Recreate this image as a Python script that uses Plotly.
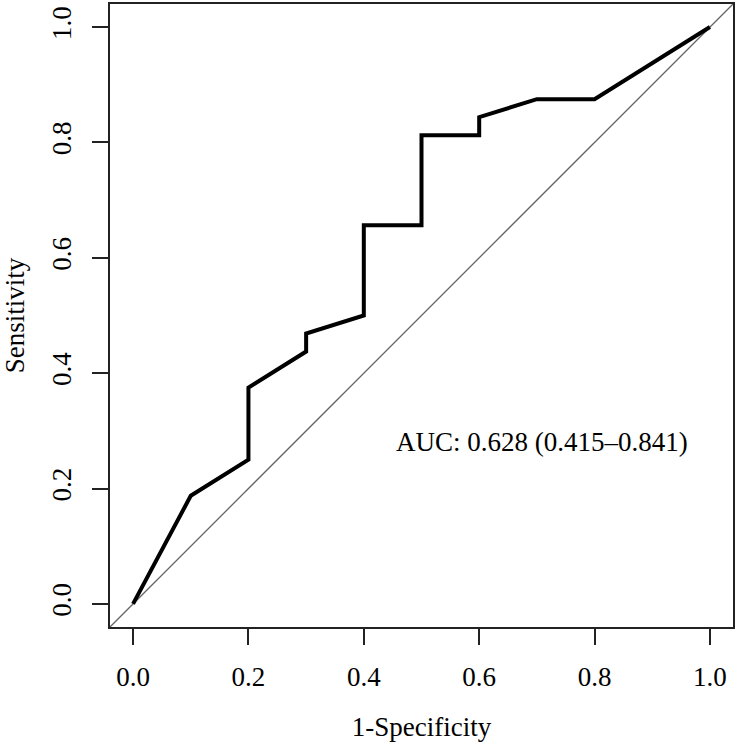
import plotly.graph_objects as go

# ROC curve data (1-Specificity, Sensitivity)
fpr = [0.0, 0.1, 0.2, 0.2, 0.3, 0.3, 0.4, 0.4, 0.5, 0.5, 0.6, 0.6, 0.7, 0.8, 1.0]
tpr = [0.0, 0.1875, 0.25, 0.375, 0.4375, 0.46875, 0.5, 0.65625, 0.65625, 0.8125,
       0.8125, 0.84375, 0.875, 0.875, 1.0]
diag = [-0.04, 1.04]
tick_vals = [0.0, 0.2, 0.4, 0.6, 0.8, 1.0]
tick_text = ["0.0", "0.2", "0.4", "0.6", "0.8", "1.0"]
auc_label = "AUC: 0.628 (0.415\u20130.841)"

FONT = "Liberation Serif, Times New Roman, serif"
FS = 27

fig = go.Figure()
fig.add_trace(go.Scatter(x=diag, y=diag, mode="lines",
                         line=dict(color="#666666", width=1.3), hoverinfo="skip",
                         showlegend=False))
fig.add_trace(go.Scatter(x=fpr, y=tpr, mode="lines",
                         line=dict(color="black", width=4), showlegend=False))

fig.add_annotation(x=0.452, y=0.28, text=auc_label, showarrow=False,
                   xanchor="left", yanchor="middle",
                   font=dict(family=FONT, size=FS, color="black"))

axis_common = dict(range=[-0.04, 1.04], tickvals=tick_vals, ticktext=tick_text,
                   ticks="outside", ticklen=16, tickwidth=2, tickcolor="#222",
                   showline=True, linewidth=2, linecolor="#222", mirror=True,
                   showgrid=False, zeroline=False,
                   tickfont=dict(family=FONT, size=FS, color="black"))

fig.update_layout(
    width=737, height=744,
    margin=dict(l=110, r=2, t=2, b=117),
    plot_bgcolor="white", paper_bgcolor="white",
    xaxis=dict(**axis_common, title=dict(text="1-Specificity", standoff=26,
                                         font=dict(family=FONT, size=FS, color="black")),
               ticklabelstandoff=9),
    yaxis=dict(**axis_common, tickangle=-90, ticklabelstandoff=10,
               title=dict(text="Sensitivity", standoff=20,
                          font=dict(family=FONT, size=FS, color="black"))),
)

fig.write_html("out.html", config={"displayModeBar": False},
               post_script="document.body.style.margin='0px';")
